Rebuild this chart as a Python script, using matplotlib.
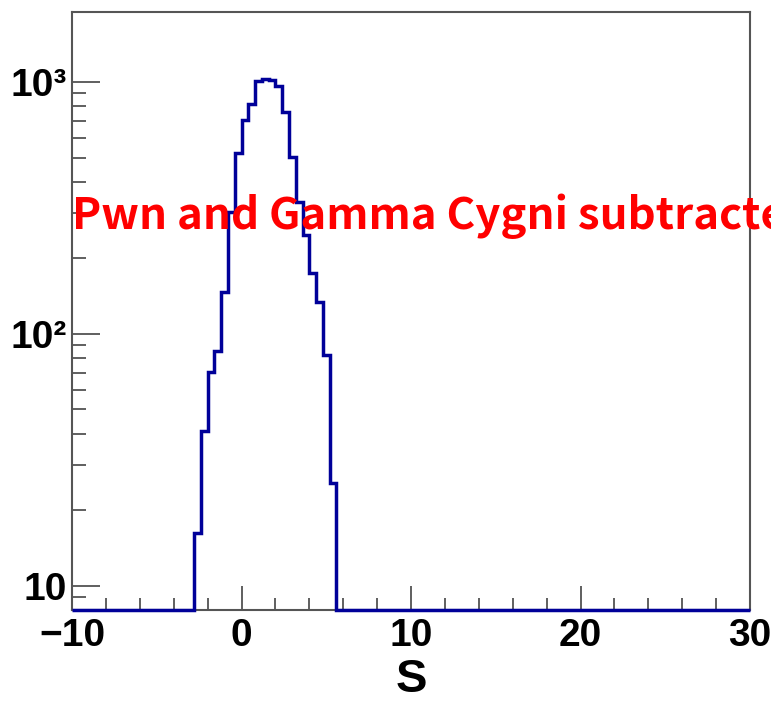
import numpy as np
import matplotlib
matplotlib.use("Agg")
import matplotlib.pyplot as plt
from matplotlib.ticker import FixedLocator, NullFormatter

# histogram: 100 bins from -10 to 30, only bins -2.8 .. 5.6 are filled
x_lo, x_hi, n_bins = -10.0, 30.0, 100
first_filled = -2.8
counts_filled = [16.2, 41.1, 70.6, 85.4, 146.8, 305, 520, 705, 813, 1006,
                 1025, 1016, 962, 760, 504, 334, 247, 174, 133, 82.2, 25.5]
label_text = "Pwn and Gamma Cygni subtracted"
x_label = "S"
y_min, y_max = 8.0, 1890.0

edges = np.linspace(x_lo, x_hi, n_bins + 1)
counts = np.zeros(n_bins)
i0 = int(round((first_filled - x_lo) / (edges[1] - edges[0])))
counts[i0:i0 + len(counts_filled)] = counts_filled

tick_font = ["Liberation Sans Narrow", "Liberation Sans", "DejaVu Sans"]

fig = plt.figure(figsize=(7.71, 7.11), dpi=100)
ax = fig.add_axes([72 / 771, 101 / 711, 678 / 771, 598 / 711])

# empty bins are drawn on the frame bottom, like ROOT does
ax.stairs(np.clip(counts, y_min, None), edges, color="#000099", lw=2.5,
          baseline=None, clip_on=False, zorder=3)

ax.set_yscale("log")
ax.set_xlim(x_lo, x_hi)
ax.set_ylim(y_min, y_max)

ax.xaxis.set_major_locator(FixedLocator([-10, 0, 10, 20, 30]))
ax.xaxis.set_minor_locator(FixedLocator(np.arange(-8, 30, 2)))
ax.set_xticklabels(["\u221210", "0", "10", "20", "30"])
ax.yaxis.set_major_locator(FixedLocator([10, 100, 1000]))
ax.yaxis.set_minor_locator(FixedLocator(
    [v * d for d in (1, 10, 100, 1000) for v in range(2, 10)]))
ax.yaxis.set_minor_formatter(NullFormatter())
ax.set_yticklabels(["10", "10\u00b2", "10\u00b3"])

ax.tick_params(which="major", direction="in", length=17, width=1.2,
               color="#444444", labelsize=28, pad=6)
ax.tick_params(which="minor", direction="in", length=9, width=1.2,
               color="#444444")
ax.tick_params(axis="y", which="major", length=20, pad=4)
ax.tick_params(axis="y", which="minor", length=10)
for lab in ax.get_xticklabels() + ax.get_yticklabels():
    lab.set_family(tick_font)
    lab.set_fontweight("bold")

for sp in ax.spines.values():
    sp.set_color("#555555")
    sp.set_linewidth(1.5)

ax.set_xlabel(x_label, family=tick_font, fontweight="bold", fontsize=34,
              labelpad=3)

fig.text(72 / 771, 1 - 216 / 711, label_text, color="red", fontsize=31.5,
         family=["Noto Sans CJK SC", "DejaVu Sans"], fontweight="bold",
         va="center", ha="left")

fig.savefig("out.png", dpi=100)
